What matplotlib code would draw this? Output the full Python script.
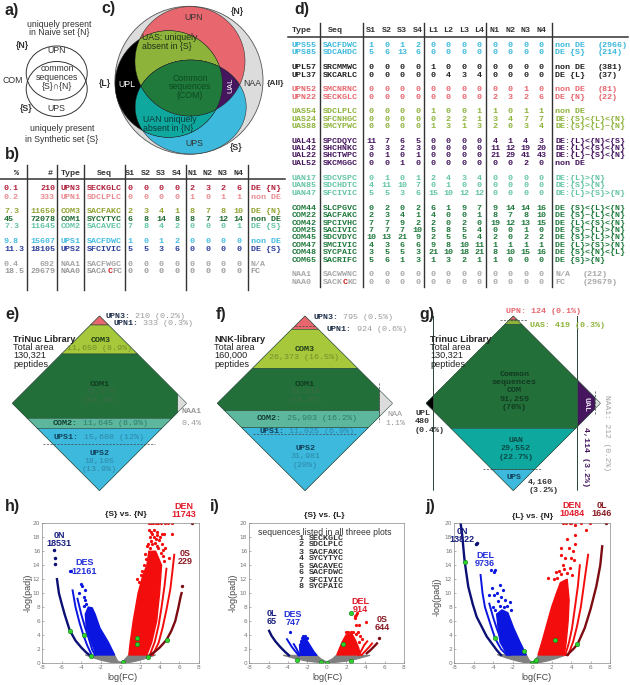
import numpy as np
import matplotlib
matplotlib.use("Agg")
import matplotlib.pyplot as plt
from matplotlib import patches

plt.rcParams["axes.unicode_minus"] = False

W, H = 630, 685
MONO = "Liberation Mono"
SANS = "Liberation Sans"

RED = "#e8666e"
OLIVE = "#8db33a"
GREEN = "#1f7a3c"
CYAN = "#3cb9dc"
TEAL = "#0fa89f"
PURPLE = "#45155e"
LGRAY = "#dcdcdc"

# table b
b_pct = ["0.1", "0.2", "7.3", "45", "7.3", "9.8", "11.3", "0.4", "18.5"]
b_num = [210, 333, 11650, 72078, 11645, 15607, 18105, 692, 29679]
b_type = ["UPN3", "UPN1", "COM3", "COM1", "COM2", "UPS1", "UPS2", "NAA1", "NAA0"]
b_seq = ["SECKGLC", "SDCLPLC", "SACFAKC", "SYCYTYC", "SACAVEC", "SACFDWC", "SFCIVIC", "SACFWGC", "SACACFC"]
b_s = [[0, 0, 0, 0], [0, 0, 0, 0], [2, 3, 4, 1], [6, 8, 14, 8], [7, 8, 4, 2],
       [1, 0, 1, 2], [5, 5, 3, 6], [0, 0, 0, 0], [0, 0, 0, 0]]
b_n = [[2, 3, 2, 6], [1, 0, 1, 1], [8, 7, 8, 10], [8, 7, 12, 14], [0, 0, 0, 1],
       [0, 0, 0, 0], [0, 0, 0, 0], [0, 0, 0, 0], [0, 0, 0, 0]]
b_note = ["DE {N}", "non DE", "DE {N}", "non DE", "DE {S}", "non DE", "DE {S}", "N/A", "FC"]
b_colors = ["#b3203c", "#e98a90", "#93a333", "#1f6b32", "#63c4a6", "#45bde2", "#2c3f9c", "#a5a5a5", "#9a9a9a"]
b_rows_y = [188.7, 197.3, 211.7, 219.3, 226.7, 241.3, 249, 264, 271.3]

# table d
d_type = ["UPS55", "UPS85", "UPL57", "UPL37", "UPN52", "UPN22", "UAS54", "UAS24", "UAS88",
          "UAL41", "UAL42", "UAL22", "UAL52", "UAN17", "UAN85", "UAN47",
          "COM44", "COM22", "COM42", "COM25", "COM45", "COM47", "COM48", "COM65", "NAA1", "NAA0"]
d_seq = ["SACFDWC", "SDCAHDC", "SRCMMWC", "SKCARLC", "SMCNRNC", "SECKGLC", "SDCLPLC", "SFCNHGC", "SMCYPWC",
         "SPCDQYC", "SHCHNKC", "SHCTWPC", "SKCMGGC", "SDCVSPC", "SDCHDTC", "SFCIVIC",
         "SLCPGVC", "SACFAKC", "SPCIVHC", "SACIVIC", "SDCVDYC", "SMCIVIC", "SYCPAIC", "SACRIFC", "SACWWNC", "SACKCKC"]
d_s = [[1, 0, 1, 2], [5, 6, 13, 6], [0, 0, 0, 0], [0, 0, 0, 0], [0, 0, 0, 0], [0, 0, 0, 0],
       [0, 0, 0, 0], [0, 0, 0, 0], [0, 0, 0, 0], [11, 7, 6, 5], [3, 3, 2, 3], [0, 1, 0, 1], [0, 0, 1, 0],
       [0, 1, 0, 1], [4, 11, 10, 7], [5, 5, 3, 6], [0, 2, 0, 2], [2, 3, 4, 1], [7, 7, 9, 2], [7, 7, 7, 10],
       [10, 13, 21, 9], [4, 3, 6, 6], [3, 5, 5, 3], [5, 6, 1, 3], [0, 0, 0, 0], [0, 0, 0, 0]]
d_l = [[0, 0, 0, 0], [0, 0, 0, 0], [1, 0, 0, 0], [0, 4, 3, 4], [0, 0, 0, 0], [0, 0, 0, 0],
       [1, 0, 0, 1], [0, 2, 2, 1], [1, 3, 1, 3], [0, 0, 0, 0], [0, 0, 0, 0], [0, 0, 0, 0], [0, 0, 0, 0],
       [2, 4, 3, 4], [0, 1, 0, 0], [15, 10, 12, 12], [6, 1, 9, 7], [4, 0, 0, 1], [2, 0, 2, 0], [5, 8, 5, 4],
       [2, 5, 5, 4], [9, 8, 10, 11], [21, 10, 18, 21], [1, 3, 2, 1], [0, 0, 0, 0], [0, 0, 0, 0]]
d_n = [[0, 0, 0, 0], [0, 0, 0, 0], [0, 0, 0, 0], [0, 0, 0, 0], [0, 0, 1, 0], [2, 3, 2, 6],
       [1, 0, 1, 1], [3, 4, 7, 7], [2, 0, 3, 4], [4, 1, 4, 3], [11, 12, 19, 20], [21, 29, 41, 43], [0, 0, 2, 0],
       [0, 0, 0, 0], [0, 0, 0, 0], [0, 0, 0, 0], [9, 14, 14, 16], [8, 7, 8, 10], [19, 12, 13, 15], [0, 0, 1, 0],
       [2, 0, 2, 2], [1, 1, 1, 1], [8, 10, 15, 16], [1, 0, 0, 0], [0, 0, 0, 0], [0, 0, 0, 0]]
d_note = ["non DE", "DE {S}", "non DE", "DE {L}", "non DE", "DE {N}", "non DE", "DE:{S}<{L}<{N}", "DE:{S}<{L}~{N}",
          "DE:{L}<{N}<{S}", "DE:{L}<{S}<{N}", "DE:{L}~{S}<{N}", "non DE", "DE:{L}>{N}", "DE:{S}>{N}", "DE:{L}>{S}>{N}",
          "DE {S}<{L}<{N}", "DE {S}~{L}<{N}", "DE {L}<{S}<{N}", "DE {S}~{L}>{N}", "DE {S}>{L}>{N}", "DE {L}>{S}>{N}",
          "DE {S}<{N}<{L}", "DE {S}>{N}", "N/A", "FC"]
d_count = ["(2966)", "(214)", "(381)", "(37)", "(81)", "(22)"] + [""] * 18 + ["(212)", "(29679)"]
d_colors = [CYAN] * 2 + ["#222222"] * 2 + [RED] * 2 + [OLIVE] * 3 + [PURPLE] * 4 + ["#63c4a6"] * 3 + [GREEN] * 8 + ["#a8a8a8"] * 2
d_rows_y = [45, 52.3, 67.3, 75, 89.3, 97, 111.7, 119, 126.3, 141.7, 148, 155.7, 163.3, 178.3, 185.7, 193.3,
            208, 215.3, 223, 230.3, 237.7, 245.3, 252.7, 260, 274.7, 282]

# panel i list
common_seqs = ["SECKGLC", "SDCLPLC", "SACFAKC", "SYCYTYC", "SACAVEC", "SACFDWC", "SFCIVIC", "SYCPAIC"]

# volcano h, {S} vs. {N}
h_gray = [(-3.6, 1.15), (-2.8, 0.75), (-2, 0.4), (-1.2, 0.15), (-0.5, 0), (0.5, 0), (1.2, 0.15), (2, 0.4), (2.8, 0.75),
          (3.6, 1.15), (0.85, 1.15), (0.3, 0.3), (0, 0.1), (-0.3, 0.3), (-0.6, 1.15)]
h_navy = [(-6.5, 12), (-6.3, 10), (-6, 8.4), (-5.7, 6.9), (-5.2, 4.7), (-4.6, 3.2), (-4, 2.2), (-3.5, 1.5), (-3.1, 1.05)]
h_navy_out = [(-6.85, 16.2), (-6.75, 15), (-6.65, 14.2)]
h_blue_arcs = [[(-4.9, 10.4), (-4.6, 8), (-4.2, 5.8), (-3.8, 4), (-3.4, 2.5), (-2.95, 1.15)],
               [(-4.4, 9.2), (-4, 6.9), (-3.6, 5), (-3.2, 3.3), (-2.9, 1.9), (-2.6, 1.15)]]
h_blue_fill = [(-3.6, 7), (-3.3, 8), (-2.9, 7.9), (-2.6, 7), (-2.1, 5), (-1.25, 3), (-0.9, 2), (-0.6, 1.15), (-2.5, 1.15), (-3, 3), (-3.5, 5)]
h_blue_out = [(-5.2, 13.2), (-5.1, 13.1), (-4, 11.3), (-3.9, 11), (-3.65, 10.5), (-4.2, 10), (-3.7, 9.4), (-3.6, 9), (-3.55, 8.5), (-3.7, 8.2)]
h_red_fill = [(0.85, 1.15), (1.0, 3), (1.3, 6), (1.8, 10), (2.3, 12.6), (2.7, 14), (2.9, 16), (3.6, 16), (4.2, 14), (4, 10), (3.7, 6), (3.2, 3), (2.7, 1.15)]
h_red_arcs = [[(3.0, 1.15), (3.5, 3), (3.9, 5.4), (4.2, 8), (4.5, 11), (4.7, 13.5)],
              [(3.3, 1.15), (3.9, 2.9), (4.3, 5), (4.7, 7.6), (5.1, 10.6), (5.3, 13), (5.5, 15.5)]]
h_red_out = [(2.9, 20), (3.1, 20), (3.3, 20), (3.6, 20), (3.8, 20), (4.1, 20), (4.6, 20), (4.9, 20), (5.3, 20),
             (2.9, 19), (3.1, 18.8), (3.4, 19), (3.7, 18.7), (4.5, 18.5), (5.3, 18.5), (3, 18), (3.2, 18.4), (3.4, 18), (3.6, 17.7), (4, 18),
             (3.7, 18.3), (4.2, 18.4), (3.9, 17.6), (2.8, 17), (3.1, 17.4), (3.2, 17), (3.5, 17.2), (3.7, 16.8), (4.2, 17), (3.8, 16.4), (4.3, 16.2),
             (4.6, 16.5), (2.7, 16.8), (3, 16.5), (2.5, 15.6), (2.6, 14.9), (2.4, 14), (2.9, 15.4), (2.2, 13.2), (1.7, 12), (1.9, 11.6), (2.1, 12.6),
             (4.3, 15.3), (4.4, 14.6), (4.1, 15.8), (5, 15)]
h_dark = [(3, 1.1), (3.5, 1.6), (4, 2.2), (4.7, 3.3), (5.2, 4.6), (5.6, 6), (5.9, 7.8), (6.15, 9.5), (6.25, 10)]
h_dark_out = [(7.3, 20), (6.3, 11)]
h_green = [(-5.17, 4.6), (-3.74, 3.96), (-3.05, 1.05), (0.3, 0.2), (1.7, 3.6), (1.72, 2.7), (2.78, 0.8), (4.73, 3.25)]

# volcano i, {S} vs. {L}
i_gray = [(-4.5, 1.1), (-3.2, 0.6), (-2, 0.25), (-1, 0.1), (0, 0), (1, 0.1), (2, 0.25), (3.2, 0.6), (4.5, 1.1), (1, 1.1), (0.6, 0.6), (0, 0.15),
          (-0.6, 0.6), (-1, 1.1)]
i_navy = [(-5.95, 4.6), (-5.7, 3.9), (-5.3, 3.1), (-4.8, 2.3), (-4.3, 1.6), (-3.9, 1.1)]
i_navy_out = []
i_blue_arcs = [[(-4.1, 3.4), (-3.6, 2.3), (-3.2, 1.6), (-2.9, 1.1)], [(-3.4, 2.7), (-3.1, 2), (-2.8, 1.1)]]
i_blue_fill = [(-2.8, 2.6), (-2.5, 3.2), (-2.2, 3.6), (-1.8, 2.7), (-1.3, 1.6), (-1, 1.1), (-2.75, 1.1)]
i_blue_out = [(-3.8, 4.5), (-2.6, 3.6), (-2.4, 3.9), (-2.2, 3.8), (-2, 3.6), (-2.7, 3.2)]
i_red_fill = [(1.05, 1.15), (1.3, 2), (1.6, 3), (2, 4), (2.6, 4.2), (3, 3.2), (3.3, 2.2), (3.5, 1.15)]
i_red_arcs = [[(3.3, 1.15), (3.6, 1.8), (3.9, 2.6), (4.2, 3.1)], [(3.6, 1.15), (4, 1.7), (4.4, 2.3), (4.7, 2.8)]]
i_red_out = [(2.9, 6.8), (3, 6.9), (3.1, 7.1), (2.95, 6.5), (3, 5.5), (3.3, 5.4), (4.1, 5.8), (2.5, 4.5), (2.7, 4.5), (3.2, 4.5), (3.4, 3.8),
             (2, 4.4), (3.3, 3), (3, 4.2), (2.2, 4.4), (3.7, 3.4)]
i_dark = [(4.15, 1.4), (4.5, 1.8), (5, 2.5), (5.2, 2.8)]
i_dark_out = [(5.45, 3.6)]
i_green = [(2.47, 7.16), (1.74, 2.67), (2.47, 0.33), (0, 0), (-0.6, 0.1), (-3.09, 0.43)]

# volcano j, {L} vs. {N}
j_gray = [(-3.6, 1.2), (-2.6, 0.7), (-1.6, 0.3), (-0.6, 0), (0.6, 0), (1.6, 0.3), (2.6, 0.7), (3.6, 1.2), (0.7, 1.2), (0.3, 0.4), (0, 0.1),
          (-0.3, 0.4), (-0.6, 1.2)]
j_navy = [(-7.35, 20), (-7.2, 18.5), (-6.97, 15), (-6.8, 13.2), (-6.56, 10.9), (-6.1, 8.4), (-5.7, 6.6), (-4.67, 3.8), (-3.65, 1.86), (-3.2, 1.15)]
j_navy_out = [(-5.7, 17.2), (-5.75, 17)]
j_blue_arcs = [[(-5.3, 12.6), (-5.1, 10), (-4.85, 8), (-4.3, 5.6), (-3.8, 3.5), (-3.2, 2), (-2.6, 1.15)],
               [(-4.4, 8.5), (-4, 6.5), (-3.6, 4.8), (-3.1, 3), (-2.6, 1.9), (-2.3, 1.15)]]
j_blue_fill = [(-3.65, 7), (-3.1, 7.6), (-2.5, 7.2), (-1.9, 5), (-1.25, 3), (-0.6, 1.15), (-2.55, 1.15), (-3.3, 3), (-3.5, 5)]
j_blue_out = [(-4.2, 13.3), (-3.9, 13), (-3.8, 13.3), (-4.1, 10.8), (-3.3, 11.2), (-3, 10.4), (-3.2, 9.5), (-2.3, 8.7), (-2.6, 8.2), (-3.6, 10),
              (-2.8, 9), (-4.4, 9.7), (-3.9, 9.8), (-4, 8), (-3.5, 8.9), (-3.3, 8.2), (-2.9, 8), (-2.2, 7.6), (-3.8, 7.6)]
j_red_fill = [(0.6, 1.15), (1, 3), (1.5, 5.5), (2, 8), (2.5, 10), (2.9, 11.5), (3.6, 12), (3.8, 9), (3.7, 6), (3.5, 3), (3.3, 1.15)]
j_red_arcs = [[(3.4, 1.15), (3.8, 3), (4.1, 5), (4.4, 8), (4.7, 11), (4.9, 14)],
              [(3.7, 1.15), (4.2, 3), (4.6, 5.2), (5, 8), (5.3, 11), (5.6, 14), (5.75, 15.5)]]
j_red_out = [(3.2, 20), (3.5, 20), (3.9, 20), (4, 20), (4.4, 19.7), (5, 20), (5.5, 19), (5.9, 20), (4.4, 18.3), (3.6, 17.7), (4.4, 17), (3, 16.5),
             (3.8, 16.5), (4.2, 16), (2.4, 13), (2.8, 13.2), (3, 12.8), (1.6, 12.2), (3.4, 15), (4, 15), (2.2, 12), (3.3, 13.4), (3.6, 12.9), (3.9, 13.6),
             (4.3, 14.8), (3.2, 14), (2.6, 12.2), (3, 15.5), (4.1, 12.6)]
j_dark = [(3.6, 1.15), (4.3, 2.1), (4.7, 2.8), (5.4, 5), (6, 7.7), (6.6, 11), (7, 14), (7.2, 16.7)]
j_dark_out = [(7.6, 20)]
j_green = [(-6.9, 14.5), (-3.78, 3.53), (-0.84, 1.77), (0, 0), (0.3, 0.2), (0.4, 0.43), (2.35, 3.25), (4.64, 2.72)]

tick_x = [-8, -6, -4, -2, 0, 2, 4, 6, 8]
tick_y = [0, 2, 4, 6, 8, 10, 12, 14, 16, 18, 20]


def px_axes(fig, x0, x1, top, bottom):
    return fig.add_axes([x0 / W, 1 - bottom / H, (x1 - x0) / W, (bottom - top) / H])


def draw_volcano(fig, x0, x1, gray, navy, navy_out, blue_arcs, blue_fill, blue_out,
                 red_fill, red_arcs, red_out, dark, dark_out, green):
    ax = px_axes(fig, x0, x1, 523.3, 663)
    ax.add_patch(patches.Polygon(gray, closed=True, fc="#808080", ec="#808080", lw=0.8))
    ax.add_patch(patches.Polygon(blue_fill, closed=True, fc="#0a16e0", ec="#0a16e0", lw=1))
    ax.add_patch(patches.Polygon(red_fill, closed=True, fc="#f40d0d", ec="#f40d0d", lw=1))
    for arc in blue_arcs:
        ax.plot(*zip(*arc), color="#0a16e0", lw=1.4)
    for arc in red_arcs:
        ax.plot(*zip(*arc), color="#f40d0d", lw=1.4)
    ax.plot(*zip(*navy), color="#0b1075", lw=1.7)
    ax.plot(*zip(*dark), color="#7c0c12", lw=1.7)
    if navy_out:
        ax.plot(*zip(*navy_out), ls="", marker="o", ms=1.5, color="#0b1075")
    ax.plot(*zip(*blue_out), ls="", marker="o", ms=1.3, color="#0a16e0")
    ax.plot(*zip(*red_out), ls="", marker="o", ms=1.3, color="#f40d0d")
    ax.plot(*zip(*dark_out), ls="", marker="o", ms=1.4, color="#7c0c12")
    ax.plot(*zip(*green), ls="", marker="o", ms=3.2, color="#2fd42a", mec="#0c7a1c", mew=0.4)
    ax.set_xlim(-8, 8)
    ax.set_ylim(0, 20)
    ax.set_xticks(tick_x)
    ax.set_yticks(tick_y)
    ax.tick_params(labelsize=4.2, length=1.5, width=0.4, direction="in", colors="#777777", pad=1.5)
    for s in ax.spines.values():
        s.set_linewidth(0.5)
        s.set_color("#888888")


fig = plt.figure(figsize=(W / 100, H / 100), dpi=100)

draw_volcano(fig, 42.3, 198.7, h_gray, h_navy, h_navy_out, h_blue_arcs, h_blue_fill, h_blue_out,
             h_red_fill, h_red_arcs, h_red_out, h_dark, h_dark_out, h_green)
draw_volcano(fig, 249.3, 404, i_gray, i_navy, i_navy_out, i_blue_arcs, i_blue_fill, i_blue_out,
             i_red_fill, i_red_arcs, i_red_out, i_dark, i_dark_out, i_green)
draw_volcano(fig, 454.3, 610, j_gray, j_navy, j_navy_out, j_blue_arcs, j_blue_fill, j_blue_out,
             j_red_fill, j_red_arcs, j_red_out, j_dark, j_dark_out, j_green)

ax = fig.add_axes([0, 0, 1, 1], zorder=5)
ax.set_xlim(0, W)
ax.set_ylim(H, 0)
ax.axis("off")
ax.patch.set_visible(False)


def mono(x, y, s, color="#222222", ha="left", size=6, weight="bold", **kw):
    ax.text(x, y, s, family=MONO, fontsize=size, color=color, ha=ha, va="center", weight=weight, **kw)


def sans(x, y, s, color="#333333", ha="center", size=6.3, weight="normal", **kw):
    ax.text(x, y, s, family=SANS, fontsize=size, color=color, ha=ha, va="center", weight=weight, **kw)


def pair(x, y, head, tail, head_color="#1f2f4a", tail_color="#9a9a9a"):
    # bold label followed by a lighter number, 5 px per character
    mono(x, y, head, head_color)
    mono(x + 5 * (len(head) + 1), y, tail, tail_color, weight="normal")


def seq_red(x, y, seq, pos, color):
    # sequence with one letter picked out in red
    mono(x, y, seq[:pos], color)
    mono(x + 5 * pos, y, seq[pos], "#d02020")
    mono(x + 5 * (pos + 1), y, seq[pos + 1:], color)


def ellipse_r(theta, e, c):
    # distance from c along theta to the edge of ellipse e = (cx, cy, rx, ry)
    dx, dy = np.cos(theta), np.sin(theta)
    ox, oy = (c[0] - e[0]) / e[2], (c[1] - e[1]) / e[3]
    ux, uy = dx / e[2], dy / e[3]
    a, b, cc = ux**2 + uy**2, ox * ux + oy * uy, ox**2 + oy**2 - 1
    return (-b + np.sqrt(b**2 - a * cc)) / a


def common_area(ells, c=(178, 84)):
    th = np.linspace(0, 2 * np.pi, 400)
    r = np.min([ellipse_r(th, e, c) for e in ells], axis=0)
    return np.column_stack([c[0] + r * np.cos(th), c[1] + r * np.sin(th)])


def band(cx, cy, hw, hh, y0, y1, color, xmin=None, xmax=None):
    ys = np.linspace(y0, y1, 200)
    half = hw * (1 - np.abs(ys - cy) / hh)
    left, right = cx - half, cx + half
    lo = -1e9 if xmin is None else xmin
    hi = 1e9 if xmax is None else xmax
    left, right = np.clip(left, lo, hi), np.clip(right, lo, hi)
    pts = np.column_stack([np.r_[left, right[::-1]], np.r_[ys, ys[::-1]]])
    ax.add_patch(patches.Polygon(pts, closed=True, fc=color, ec="#2a4a3a", lw=0.4))


def dashed(x0, y0, x1, y1):
    ax.plot([x0, x1], [y0, y1], color="#444444", lw=0.5, ls=(0, (3, 2)))


# panel letters
for lab, x, y in [("a)", 12, 10), ("b)", 12, 154), ("c)", 108, 8), ("d)", 302, 9), ("e)", 12, 314), ("f)", 221, 314),
                  ("g)", 427, 314), ("h)", 12, 506), ("i)", 215, 506), ("j)", 430, 506)]:
    sans(x, y, lab, color="#222222", size=11.5, weight="bold")

# panel a
ax.add_patch(patches.Ellipse((56.7, 73), 61, 54, fc="none", ec="#333333", lw=0.7))
ax.add_patch(patches.Ellipse((56.7, 89), 61, 55, fc="none", ec="#333333", lw=0.7))
sans(59, 24, "uniquely present")
sans(59, 32.5, "in Naive set {N}")
sans(22, 45, "{N}", weight="bold")
sans(57, 50, "UPN")
sans(57, 68.5, "common")
sans(57, 77, "sequences")
sans(57, 86, "{S}∩{N}", )
sans(13, 80, "COM")
sans(26, 108, "{S}", weight="bold")
sans(56, 108, "UPS")
sans(62, 128, "uniquely present")
sans(62, 139, "in Synthetic set {S}")

# panel c
N_set = (190, 61.3, 55, 54.7)
S_set = (190.7, 107, 55.5, 47)
L_set = (168.7, 84, 53.7, 53.3)
ax.add_patch(patches.Circle((189, 80.3), 74, fc=LGRAY, ec="#555555", lw=0.6))
for e, col in [(N_set, RED), (S_set, CYAN), (L_set, "black")]:
    ax.add_patch(patches.Polygon(common_area([e]), closed=True, fc=col, ec="#333333", lw=0.4))
for es, col in [((N_set, L_set), OLIVE), ((S_set, L_set), TEAL), ((N_set, S_set), PURPLE), ((N_set, S_set, L_set), GREEN)]:
    ax.add_patch(patches.Polygon(common_area(es), closed=True, fc=col, ec="#222222", lw=0.3))
sans(194, 17.3, "UPN")
sans(142, 37.5, "UAS: uniquely", ha="left", color="#20301a")
sans(142, 46, "absent in {S}", ha="left", color="#20301a")
for y, s in zip([78, 86.5, 95], ["Common", "sequences", "(COM)"]):
    sans(190, y, s, color="#0d4a22")
sans(127, 84, "UPL", color="white")
sans(231, 85, "UAL", color="white", rotation=90, size=5.8)
sans(252, 83, "NAA")
sans(237, 11, "{N}", weight="bold")
sans(105, 83, "{L}", weight="bold")
sans(236, 147, "{S}", weight="bold")
sans(143, 119.5, "UAN uniquely", ha="left", color="#0a3a36")
sans(143, 128, "absent in {N}", ha="left", color="#0a3a36")
sans(194, 143, "UPS")
sans(276, 83, "{All}", weight="bold", size=6)

# table b
b_head_y = 173
for x, s, ha in [(17, "%", "center"), (50, "#", "center"), (60.7, "Type", "left"), (97, "Seq", "left")]:
    mono(x, b_head_y, s, "#333333", ha=ha)
b_sx = [130, 145.7, 161.3, 176.7]
b_nx = [192, 207.7, 223, 238.7]
for i, x in enumerate(b_sx):
    mono(x, b_head_y, "S%d" % (i + 1), "#333333", ha="center")
for i, x in enumerate(b_nx):
    mono(x, b_head_y, "N%d" % (i + 1), "#333333", ha="center")
for x in [26.7, 57.3, 84, 125, 186, 248.3]:
    ax.plot([x, x], [165, 290], color="#333333", lw=1)
ax.plot([0, 285], [179, 179], color="#333333", lw=1.1)
for r, y in enumerate(b_rows_y):
    c = b_colors[r]
    mono(4, y, b_pct[r], c)
    mono(55, y, str(b_num[r]), c, ha="right")
    mono(60.7, y, b_type[r], c)
    if b_type[r] == "NAA0":
        seq_red(87.3, y, b_seq[r], 4, c)
    else:
        mono(87.3, y, b_seq[r], c)
    for x, v in zip(b_sx, b_s[r]):
        mono(x, y, str(v), c, ha="center")
    for x, v in zip(b_nx, b_n[r]):
        mono(x, y, str(v), c, ha="center")
    mono(250.7, y, b_note[r], c)

# table d
d_head_y = 30.7
d_sx = [371, 386.7, 402, 417.7]
d_lx = [433.3, 448.3, 464, 479.3]
d_nx = [495, 510.3, 525.7, 541.3]
mono(291.7, d_head_y, "Type", "#333333")
mono(327.7, d_head_y, "Seq", "#333333")
for name, xs in [("S", d_sx), ("L", d_lx), ("N", d_nx)]:
    for i, x in enumerate(xs):
        mono(x, d_head_y, name + str(i + 1), "#333333", ha="center")
for x in [320, 362.7, 424.3, 485.7, 551.7]:
    ax.plot([x, x], [23, 286.7], color="#333333", lw=1)
ax.plot([288, 628], [36.7, 36.7], color="#333333", lw=1.1)
for r, y in enumerate(d_rows_y):
    c = d_colors[r]
    mono(291.7, y, d_type[r], c)
    if d_type[r] == "NAA0":
        seq_red(322.7, y, d_seq[r], 4, c)
    else:
        mono(322.7, y, d_seq[r], c)
    for xs, vals in [(d_sx, d_s[r]), (d_lx, d_l[r]), (d_nx, d_n[r])]:
        for x, v in zip(xs, vals):
            mono(x, y, str(v), c, ha="center")
    mono(555, y, d_note[r], c)
    if d_count[r]:
        mono(598 if r < 24 else 583, y, d_count[r], c)

# panel e
cx, cy, hw, hh = 99.5, 403.3, 87.2, 87.3
band(cx, cy, hw, hh, cy - hh, cy + hh, LGRAY)
band(cx, cy, hw, hh, 316, 325, RED)
band(cx, cy, hw, hh, 325, 354, "#a8c83c")
band(cx, cy, hw, hh, 354, 418.3, "#236f3a", xmax=177.7)
band(cx, cy, hw, hh, 418.3, 428.3, "#5cb79c")
band(cx, cy, hw, hh, 428.3, cy + hh, CYAN)
dashed(43, 444, 155, 444)
pair(105, 316, "UPN3:", "210 (0.2%)")
pair(113.3, 323.3, "UPN1:", "333 (0.3%)")
sans(13.3, 339, "TriNuc Library", ha="left", color="#222222", weight="bold", size=6.6)
for y, s in zip([347.7, 355.7, 364], ["Total area", "130,321", "peptides"]):
    sans(13.3, y, s, ha="left", color="#222222", size=6.6)
mono(101, 340, "COM3", "#1f3a1a", ha="center")
mono(99.3, 348.3, "11,650 (8.9%)", "#6f8f2a", ha="center", weight="normal")
mono(99.3, 384, "COM1", "#123a20", ha="center")
mono(100, 391.7, "72,078", "#3d6a48", ha="center", weight="normal")
mono(100, 400, "(55.3%)", "#3d6a48", ha="center", weight="normal")
pair(52.7, 423.3, "COM2:", "11,645 (8.9%)", "#143a30", "#2f7a68")
mono(191.7, 411.7, "NAA1", "#999999", ha="center")
mono(191.7, 423, "0.4%", "#999999", ha="center", weight="normal")
pair(54, 437.3, "UPS1:", "15,608 (12%)", "#14405a", "#2f86a8")
mono(99.3, 453.3, "UPS2", "#14405a", ha="center")
mono(99.3, 461, "18,105", "#2f86a8", ha="center", weight="normal")
mono(99.3, 469, "(13.9%)", "#2f86a8", ha="center", weight="normal")

# panel f
cx, cy, hw, hh = 305, 403.3, 87.7, 87.3
band(cx, cy, hw, hh, cy - hh, cy + hh, LGRAY)
band(cx, cy, hw, hh, 316, 329.3, RED)
band(cx, cy, hw, hh, 329.3, 368.3, "#a8c83c")
band(cx, cy, hw, hh, 368.3, 410.7, "#236f3a", xmax=379.3)
band(cx, cy, hw, hh, 410.7, 427.7, "#5cb79c", xmax=379.3)
band(cx, cy, hw, hh, 427.7, cy + hh, CYAN)
dashed(379.3, 383, 379.3, 421.7)
dashed(295, 325.7, 315, 325.7)
dashed(253, 434, 357, 434)
pair(313.3, 317.7, "UPN3:", "795 (0.5%)")
pair(326.7, 329.3, "UPN1:", "924 (0.6%)")
sans(214.3, 339, "NNK-library", ha="left", color="#222222", weight="bold", size=6.6)
for y, s in zip([347.3, 355.7, 364], ["Total area", "160,000", "peptides"]):
    sans(214.3, y, s, ha="left", color="#222222", size=6.6)
mono(304.3, 349, "COM3", "#1f3a1a", ha="center")
mono(304.3, 357, "26,373 (16.5%)", "#6f8f2a", ha="center", weight="normal")
mono(305, 384, "COM1", "#123a20", ha="center")
mono(305, 391.7, "61,218", "#3d6a48", ha="center", weight="normal")
mono(305, 400, "(38.3%)", "#3d6a48", ha="center", weight="normal")
pair(256.7, 418.3, "COM2:", "25,903 (16.2%)", "#143a30", "#2f7a68")
mono(395, 414.3, "NAA", "#999999", ha="center", weight="normal")
mono(395, 423, "1.1%", "#999999", ha="center", weight="normal")
pair(259, 431.7, "UPS1:", "11,025 (6.9%)", "#14405a", "#2f86a8")
mono(305, 448.3, "UPS2", "#14405a", ha="center")
mono(305, 456.7, "31,981", "#2f86a8", ha="center", weight="normal")
mono(305, 465, "(20%)", "#2f86a8", ha="center", weight="normal")

# panel g
cx, cy, hw, hh = 513.3, 403.3, 87.3, 87.3
band(cx, cy, hw, hh, cy - hh, cy + hh, LGRAY)
band(cx, cy, hw, hh, cy - hh, cy + hh, "black", xmax=433.3)
band(cx, cy, hw, hh, cy - hh, cy + hh, PURPLE, xmin=577.7, xmax=595)
band(cx, cy, hw, hh, 316, 320, RED)
band(cx, cy, hw, hh, 320, 324.5, OLIVE)
band(cx, cy, hw, hh, 324.5, 428.3, "#236f3a", xmin=433.3, xmax=577.7)
band(cx, cy, hw, hh, 428.3, 469.3, TEAL)
band(cx, cy, hw, hh, 469.3, cy + hh, CYAN)
dashed(500, 320, 527, 320)
dashed(482.7, 469.3, 541.7, 469.3)
dashed(433.3, 391, 433.3, 415)
dashed(595, 391, 595, 415)
mono(543, 311.7, "UPN: 124 (0.1%)", RED, ha="center")
mono(530, 325.7, "UAS: 419 (0.3%)", OLIVE)
sans(430, 339, "Trinuc Library", ha="left", color="#222222", weight="bold", size=6.6)
for y, s in zip([347.7, 355.7, 364], ["Total area", "130,321", "peptides"]):
    sans(430, y, s, ha="left", color="#222222", size=6.6)
for y, s in zip([374.7, 382.7, 390.7, 399, 407], ["Common", "sequences", "COM", "91,259", "(70%)"]):
    mono(514.3, y, s, "#123a20", ha="center")
for y, s in zip([440.7, 448.7, 457], ["UAN", "29,552", "(22.7%)"]):
    mono(515.7, y, s, "#0a4a46", ha="center")
mono(514, 477.7, "UPS", "#14405a", ha="center")
mono(527.3, 482.3, "4,160", "#333333")
mono(528.3, 490.7, "(3.2%)", "#333333")
for y, s in zip([413.3, 421.7, 430.3], ["UPL", "480", "(0.4%)"]):
    mono(415, y, s, "#333333")
mono(586, 404.3, "UAL", "#e8dff0", ha="center", rotation=-90)
mono(586, 457, "4,114 (3.2%)", PURPLE, ha="center", rotation=-90, size=6)
mono(606.7, 433, "NAA1: 212 (0.2%)", "#a0a0a0", ha="center", rotation=-90, weight="normal", size=5.8)

# volcano labels
for x, y, s, c, w in [(126, 515, "{S} vs. {N}", "#222222", "bold"), (324.3, 515.7, "{S} vs. {L}", "#222222", "bold"),
                      (532.7, 516, "{L} vs. {N}", "#222222", "bold")]:
    sans(x, y, s, c, weight=w, size=6)
for x in [122.7, 327.7, 536.7]:
    sans(x, 677.7, "log(FC)", "#444444", size=6.5)
for x, y in [(28.3, 593.3), (233.3, 593.3), (436.7, 596.7)]:
    sans(x, y, "-log(padj)", "#444444", rotation=90, size=6.5)
NAVY, BLUE, BRED, DRED = "#1a1f80", "#2430d8", "#e01c2a", "#8a1a22"
for x, y1, y2, a, b, c in [(59.3, 535, 543.3, "0N", "18531", NAVY), (84.3, 562.7, 571, "DES", "12161", BLUE),
                           (184, 506.7, 514.3, "DEN", "11743", BRED), (185, 553.3, 561.7, "0S", "229", DRED),
                           (271.7, 614, 622, "0L", "65", NAVY), (292.7, 614.3, 622.7, "DES", "747", BLUE),
                           (360.7, 601, 609.3, "DEL", "914", BRED), (381.7, 619.3, 627.7, "0S", "644", DRED),
                           (571.7, 505.7, 513.7, "DEN", "10484", BRED), (601.7, 505.7, 513.7, "0L", "1646", DRED),
                           (462.3, 531, 539.3, "0N", "13822", NAVY), (485, 555, 563, "DEL", "9736", BLUE)]:
    sans(x, y1, a, c, size=6.5, weight="bold")
    sans(x, y2, b, c, size=6.5, weight="bold")
sans(325, 532.3, "sequences listed in all threee plots", "#333333", size=6.2)
for n, (s, y) in enumerate(zip(common_seqs, [538, 545, 552, 559, 566, 573, 580, 587])):
    mono(301, y, str(n + 1), "#333333", ha="center")
    mono(309.3, y, s, "#333333")

fig.savefig("out.png", dpi=100)
